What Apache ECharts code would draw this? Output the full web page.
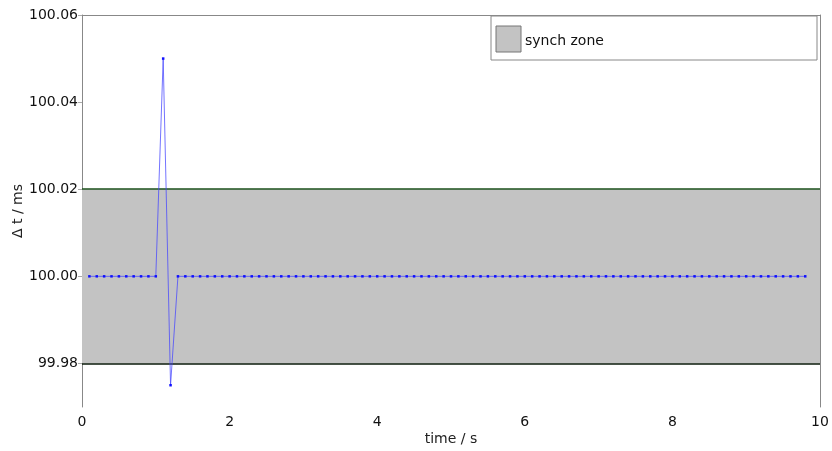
<!DOCTYPE html>
<html><head><meta charset="utf-8">
<script src="https://cdn.jsdelivr.net/npm/echarts@6/dist/echarts.min.js"></script>
<style>html,body{margin:0;padding:0;background:#fff}#c{width:832px;height:451px}</style>
</head><body><div id="c"></div>
<script>
var timeS = [0.1,0.2,0.3,0.4,0.5,0.6,0.7,0.8,0.9,1.0,1.1,1.2,1.3,1.4,1.5,1.6,1.7,1.8,1.9,2.0,
2.1,2.2,2.3,2.4,2.5,2.6,2.7,2.8,2.9,3.0,3.1,3.2,3.3,3.4,3.5,3.6,3.7,3.8,3.9,4.0,
4.1,4.2,4.3,4.4,4.5,4.6,4.7,4.8,4.9,5.0,5.1,5.2,5.3,5.4,5.5,5.6,5.7,5.8,5.9,6.0,
6.1,6.2,6.3,6.4,6.5,6.6,6.7,6.8,6.9,7.0,7.1,7.2,7.3,7.4,7.5,7.6,7.7,7.8,7.9,8.0,
8.1,8.2,8.3,8.4,8.5,8.6,8.7,8.8,8.9,9.0,9.1,9.2,9.3,9.4,9.5,9.6,9.7,9.8];
var deltaT = [100,100,100,100,100,100,100,100,100,100,100.05,99.975,100,100,100,100,100,100,100,100,
100,100,100,100,100,100,100,100,100,100,100,100,100,100,100,100,100,100,100,100,
100,100,100,100,100,100,100,100,100,100,100,100,100,100,100,100,100,100,100,100,
100,100,100,100,100,100,100,100,100,100,100,100,100,100,100,100,100,100,100,100,
100,100,100,100,100,100,100,100,100,100,100,100,100,100,100,100,100,100];
var zoneLow = 99.98, zoneHigh = 100.02;
var yTicks = [99.98, 100.00, 100.02, 100.04, 100.06];
var xTicks = [0, 2, 4, 6, 8, 10];
var legendLabel = 'synch zone';

var font = 'DejaVu Sans';
var chart = echarts.init(document.getElementById('c'), null, {renderer:'canvas'});
var pts = timeS.map(function(t,i){return [t, deltaT[i]];});
chart.setOption({
  animation:false,
  grid:{left:82,right:12,top:15,bottom:44,containLabel:false,outerBoundsMode:'none'},
  xAxis:[{type:'value',min:0,max:10,interval:2,
    name:'time / s',nameLocation:'middle',nameGap:25,nameMoveOverlap:false,
    nameTextStyle:{fontFamily:font,fontSize:14,color:'#222'},
    axisLine:{show:false},axisTick:{show:false},splitLine:{show:false},
    axisLabel:{fontFamily:font,fontSize:14,color:'#111',margin:8,
      customValues:xTicks}},
    {type:'value',position:'top',min:0,max:10,axisLine:{show:true,onZero:false,lineStyle:{color:'#888'}},
     axisTick:{show:false},axisLabel:{show:false},splitLine:{show:false}}],
  yAxis:[{type:'value',min:99.97,max:100.06,
    name:'Δ t / ms',nameLocation:'middle',nameGap:57,nameMoveOverlap:false,
    nameTextStyle:{fontFamily:font,fontSize:14,color:'#222'},
    axisLine:{show:true,lineStyle:{color:'#888'}},
    axisTick:{show:true,length:4,inside:false,lineStyle:{color:'#aaa'},customValues:yTicks},
    splitLine:{show:false},
    axisLabel:{fontFamily:font,fontSize:14,color:'#111',margin:4,customValues:yTicks,
      formatter:function(v){return v.toFixed(2);}}},
    {type:'value',position:'right',min:99.97,max:100.06,
     axisLine:{show:true,onZero:false,lineStyle:{color:'#888'}},
     axisTick:{show:false},axisLabel:{show:false},splitLine:{show:false}}],
  series:[
    {type:'line',data:pts,symbol:'rect',symbolSize:2.5,
     itemStyle:{color:'#1010ff'},
     lineStyle:{color:'rgba(70,70,255,0.75)',width:1},
     z:5,
     markArea:{silent:true,itemStyle:{color:'#c3c3c3'},
       data:[[{yAxis:zoneLow},{yAxis:zoneHigh}]], z:1},
     markLine:{silent:true,symbol:'none',label:{show:false},
       data:[{yAxis:zoneHigh,lineStyle:{color:'#1a4f1a',width:1.5,type:'solid'}},
             {yAxis:zoneLow,lineStyle:{color:'#0a1a0a',width:1.5,type:'solid'}}]}
    }
  ],
  graphic:[
    {type:'rect',shape:{x:491,y:16,width:326,height:44},style:{fill:'#fff',stroke:'#888',lineWidth:1},z:100},
    {type:'rect',shape:{x:496,y:26,width:25,height:26},style:{fill:'#c3c3c3',stroke:'#777',lineWidth:1},z:101},
    {type:'text',x:525,y:41,style:{text:legendLabel,fontFamily:font,fontSize:14,fill:'#111',verticalAlign:'middle'},z:101}
  ]
});
</script></body></html>
